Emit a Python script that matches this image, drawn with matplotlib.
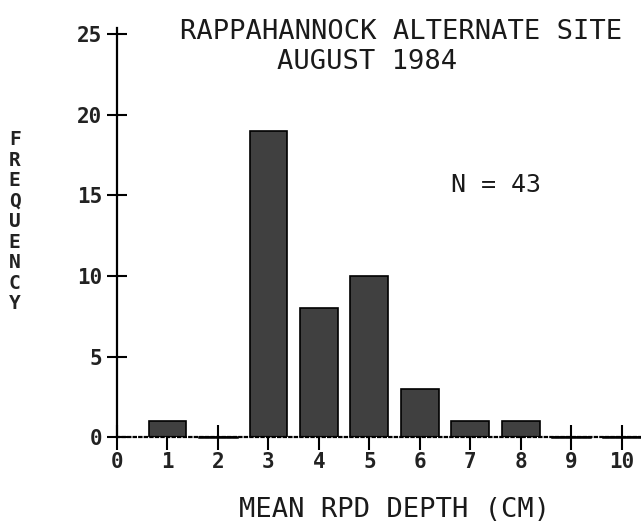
import matplotlib
matplotlib.use("Agg")
from matplotlib import pyplot as plt

# values
depth = [1, 2, 3, 4, 5, 6, 7, 8, 9, 10]
freq = [1, 0, 19, 8, 10, 3, 1, 1, 0, 0]
xticks = [0, 1, 2, 3, 4, 5, 6, 7, 8, 9, 10]
yticks = [0, 5, 10, 15, 20, 25]
title1 = "RAPPAHANNOCK ALTERNATE SITE"
title2 = "AUGUST 1984"
note = "N = 43"
xlab = "MEAN RPD DEPTH (CM)"
ylab = "FREQUENCY"

plt.rcParams['font.family'] = ['DejaVu Sans Mono']
fig = plt.figure(figsize=(6.41, 5.26), dpi=100)
ax = fig.add_axes([0.1825, 0.169, 0.8175, 0.778])

ax.set_axisbelow(True)
ax.bar(depth, freq, width=0.75, color='#404040', edgecolor='black', linewidth=1.2, zorder=2)
# zero-count bins show as a short solid stroke on the axis
for d, f in zip(depth, freq):
    if f == 0:
        ax.plot([d - 0.375, d + 0.375], [f, f], color='black', lw=1.8, zorder=3, clip_on=False)

ax.set_xlim(0, 10.38)
ax.set_ylim(0, 25.4)
ax.set_xticks(xticks)
ax.set_yticks(yticks)
ax.tick_params(axis='x', direction='inout', length=18, width=1.5, pad=2, labelsize=15)
ax.tick_params(axis='y', direction='inout', length=15, width=1.5, pad=3, labelsize=15)
for t in ax.get_xticklabels() + ax.get_yticklabels():
    t.set_fontweight('bold')
    t.set_color('#222222')

ax.spines['top'].set_visible(False)
ax.spines['right'].set_visible(False)
ax.spines['left'].set_linewidth(1.6)
ax.spines['bottom'].set_linewidth(1.6)
ax.spines['bottom'].set_linestyle((0, (1, 1.5)))

ax.text(7.5, 15.65, note, fontsize=18, ha='center', va='center', color='#1a1a1a')

fig.text(0.626, 0.939, title1, fontsize=19.5, ha='center', va='center', color='#1a1a1a')
fig.text(0.573, 0.882, title2, fontsize=19.5, ha='center', va='center', color='#1a1a1a')
fig.text(0.616, 0.030, xlab, fontsize=19.5, ha='center', va='center', color='#1a1a1a')
fig.text(0.023, 0.578, "\n".join(ylab), fontsize=14, fontweight='bold', ha='center', va='center',
         linespacing=1.1, color='#222222')

fig.savefig("out.png", dpi=100)
